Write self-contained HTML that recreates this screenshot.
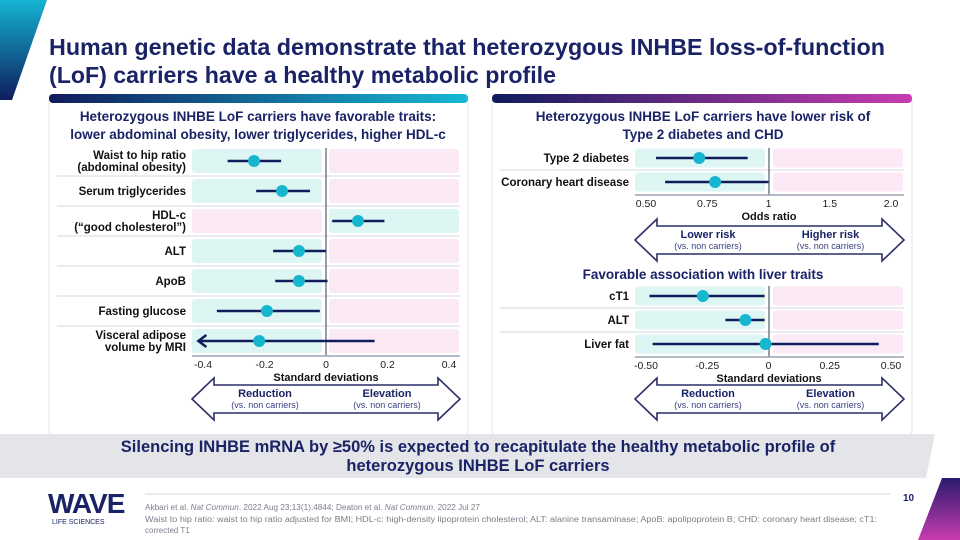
<!DOCTYPE html>
<html><head><meta charset="utf-8">
<style>
html,body{margin:0;padding:0;background:#fff;}
svg{display:block;font-family:"Liberation Sans",sans-serif;}
</style></head>
<body>
<svg id="s" width="960" height="540" viewBox="0 0 960 540" xmlns="http://www.w3.org/2000/svg">
<defs>
<linearGradient id="gl" x1="0" x2="1"><stop offset="0" stop-color="#101c5c"/><stop offset="1" stop-color="#16b9d4"/></linearGradient>
<linearGradient id="gr" x1="0" x2="1"><stop offset="0" stop-color="#101c5c"/><stop offset="1" stop-color="#c83cb0"/></linearGradient>
<linearGradient id="gs" x1="0" y1="0" x2="0" y2="1"><stop offset="0" stop-color="#14b4d2"/><stop offset="1" stop-color="#0f1d5e"/></linearGradient>
<linearGradient id="gm" x1="0" y1="0" x2="0" y2="1"><stop offset="0" stop-color="#2a1a6e"/><stop offset="1" stop-color="#c83cb0"/></linearGradient>
</defs>
<polygon points="0,0 47,0 12,100 0,100" fill="url(#gs)"/>
<text font-size="23" font-weight="bold" fill="#1a2366"><tspan x="49" y="55" textLength="836" lengthAdjust="spacingAndGlyphs">Human genetic data demonstrate that heterozygous INHBE loss-of-function</tspan><tspan x="49" y="83" textLength="507" lengthAdjust="spacingAndGlyphs">(LoF) carriers have a healthy metabolic profile</tspan></text>

<!-- panels -->
<rect x="49" y="96" width="419" height="340" rx="6" fill="#fff" stroke="#e2e4ea"/>
<rect x="49" y="94" width="419" height="9" rx="4" fill="url(#gl)"/>
<rect x="492" y="96" width="420" height="340" rx="6" fill="#fff" stroke="#e2e4ea"/>
<rect x="492" y="94" width="420" height="9" rx="4" fill="url(#gr)"/>

<text font-size="13.5" font-weight="bold" fill="#1a2366" text-anchor="middle"><tspan x="258" y="121">Heterozygous INHBE LoF carriers have favorable traits:</tspan><tspan x="258" y="139">lower abdominal obesity, lower triglycerides, higher HDL-c</tspan></text>
<text font-size="13.5" font-weight="bold" fill="#1a2366" text-anchor="middle"><tspan x="703" y="121">Heterozygous INHBE LoF carriers have lower risk of</tspan><tspan x="703" y="139">Type 2 diabetes and CHD</tspan></text>
<text x="703" y="279" font-size="13.5" font-weight="bold" fill="#1a2366" text-anchor="middle">Favorable association with liver traits</text>

<g id="charts"></g>

<!-- banner -->
<polygon points="0,434 935,434 926,478 0,478" fill="#e4e5e8"/>
<text font-size="16.5" font-weight="bold" fill="#1a2366" text-anchor="middle"><tspan x="478" y="452">Silencing INHBE mRNA by ≥50% is expected to recapitulate the healthy metabolic profile of</tspan><tspan x="478" y="471">heterozygous INHBE LoF carriers</tspan></text>

<!-- footer -->
<text x="48" y="513" font-size="28" font-weight="bold" fill="#1a2366" letter-spacing="-1">WAVE</text>
<text x="52" y="524" font-size="7" fill="#1a2366">LIFE SCIENCES</text>
<line x1="145" y1="494" x2="890" y2="494" stroke="#c8cad2" stroke-width="0.8"/>
<text x="903" y="501" font-size="10" font-weight="bold" fill="#1a2366">10</text>
<text font-size="8" fill="#7a7e8a"><tspan x="145" y="510" textLength="335" lengthAdjust="spacingAndGlyphs">Akbari et al. <tspan font-style="italic">Nat Commun</tspan>. 2022 Aug 23;13(1):4844; Deaton et al. <tspan font-style="italic">Nat Commun</tspan>. 2022 Jul 27</tspan><tspan x="145" y="522" textLength="732" lengthAdjust="spacingAndGlyphs">Waist to hip ratio: waist to hip ratio adjusted for BMI; HDL-c: high-density lipoprotein cholesterol; ALT: alanine transaminase; ApoB: apolipoprotein B; CHD: coronary heart disease; cT1:</tspan><tspan x="145" y="533">corrected T1</tspan></text>
<polygon points="942,478 960,478 960,540 918,540" fill="url(#gm)"/>
</svg>
<script>
// Left chart data (standard deviations)
const traitLabels = [["Waist to hip ratio","(abdominal obesity)"],["Serum triglycerides"],["HDL-c","(\u201cgood cholesterol\u201d)"],["ALT"],["ApoB"],["Fasting glucose"],["Visceral adipose","volume by MRI"]];
const traitEst = [-0.234,-0.143,0.104,-0.088,-0.088,-0.192,-0.217];
const traitLow = [-0.32,-0.227,0.02,-0.172,-0.165,-0.355,-0.415];
const traitHigh = [-0.146,-0.052,0.19,0,0.005,-0.02,0.158];
const traitFavorHigh = [false,false,true,false,false,false,false];
const traitTicks = [-0.4,-0.2,0,0.2,0.4];
const traitTickLabels = ["-0.4","-0.2","0","0.2","0.4"];
// Right top chart (odds ratio)
const riskLabels = ["Type 2 diabetes","Coronary heart disease"];
const riskEst = [0.717,0.782];
const riskLow = [0.541,0.578];
const riskHigh = [0.915,1.0];
const orTicks = [0.5,0.75,1,1.5,2.0];
const orTickLabels = ["0.50","0.75","1","1.5","2.0"];
// Right bottom chart (liver, SD)
const liverLabels = ["cT1","ALT","Liver fat"];
const liverEst = [-0.268,-0.094,-0.012];
const liverLow = [-0.486,-0.176,-0.473];
const liverHigh = [-0.016,-0.016,0.45];
const liverTicks = [-0.5,-0.25,0,0.25,0.5];
const liverTickLabels = ["-0.50","-0.25","0","0.25","0.50"];

const NS="http://www.w3.org/2000/svg";
const root=document.getElementById('charts');
function el(tag,attrs,parent){const e=document.createElementNS(NS,tag);for(const k in attrs)e.setAttribute(k,attrs[k]);(parent||root).appendChild(e);return e;}
const NAVY="#101c5c", TEAL="#ddf6f3", PINK="#fbe9f5", DOT="#17b6cf";

function linScale(d0,d1,r0,r1){return v=>r0+(v-d0)/(d1-d0)*(r1-r0);}
function pieceScale(ticks,r0,r1){const n=ticks.length-1;return v=>{let i=0;while(i<n-1&&v>ticks[i+1])i++;const t=(v-ticks[i])/(ticks[i+1]-ticks[i]);return r0+(i+t)*(r1-r0)/n;};}

function arrowPair(y, x0, x1, xm, leftTxt, rightTxt){
  const g=el('g',{});
  
  
  const h=21, sh=14, tip=22;
  const top=y-h, bot=y+h;
  const pts=[[x0,y],[x0+tip,top],[x0+tip,top+(h-sh)],[x1-tip,top+(h-sh)],[x1-tip,top],[x1,y],[x1-tip,bot],[x1-tip,bot-(h-sh)],[x0+tip,bot-(h-sh)],[x0+tip,bot]];
  el('polygon',{points:pts.map(p=>p.join(',')).join(' '),fill:'#fff',stroke:'#2a2f66','stroke-width':'1.6'},g);
  const lx=(x0+xm)/2+6, rx=(xm+x1)/2-6;
  const t1=el('text',{x:lx,y:y-2,'font-size':'11','font-weight':'bold',fill:'#1a2366','text-anchor':'middle'},g);t1.textContent=leftTxt;
  const t2=el('text',{x:lx,y:y+9,'font-size':'9',fill:'#3a4080','text-anchor':'middle'},g);t2.textContent='(vs. non carriers)';
  const t3=el('text',{x:rx,y:y-2,'font-size':'11','font-weight':'bold',fill:'#1a2366','text-anchor':'middle'},g);t3.textContent=rightTxt;
  const t4=el('text',{x:rx,y:y+9,'font-size':'9',fill:'#3a4080','text-anchor':'middle'},g);t4.textContent='(vs. non carriers)';
}

function forest(cfg){
  const {labels,est,low,high,favorHigh,ticks,tickLabels,scale,zero,bandL0,bandL1,bandR0,bandR1,y0,step,bandH,labelX,sepX0,axisY,axisTitle,name}=cfg;
  const g=el('g',{});
  
  
  for(let i=0;i<labels.length;i++){
    const cy=y0+i*step;
    const fav=favorHigh&&favorHigh[i];
    el('rect',{x:bandL0,y:cy-bandH/2,width:bandL1-bandL0,height:bandH,rx:3,fill:fav?PINK:TEAL},g);
    el('rect',{x:bandR0,y:cy-bandH/2,width:bandR1-bandR0,height:bandH,rx:3,fill:fav?TEAL:PINK},g);
    if(i<labels.length-1){el('line',{x1:sepX0,x2:bandR1+1,y1:cy+step/2,y2:cy+step/2,stroke:'#e4e6ec','stroke-width':'1.5'},g);}
    const lab=Array.isArray(labels[i])?labels[i]:[labels[i]];
    const t=el('text',{'font-size':'11.5','font-weight':'bold',fill:'#111','text-anchor':'end'},g);
    
    
    lab.forEach((s,j)=>{const ts=el('tspan',{x:labelX,y:cy+4+(j-(lab.length-1)/2)*12},t);ts.textContent=s;});
  }
  el('line',{x1:zero,x2:zero,y1:y0-step/2+2,y2:axisY,stroke:'#555a70','stroke-width':'1.2'},g);
  for(let i=0;i<labels.length;i++){
    const cy=y0+i*step;
    const x1=scale(low[i]),x2=scale(high[i]);
    const ci=el('line',{x1:x1,x2:x2,y1:cy,y2:cy,stroke:NAVY,'stroke-width':'2.5'},g);
    
    
    if(cfg.arrowLow && cfg.arrowLow[i]){
      el('polyline',{points:`${x1+8},${cy-6} ${x1},${cy} ${x1+8},${cy+6}`,fill:'none',stroke:NAVY,'stroke-width':'2.5'},g);
    }
    const d=el('circle',{cx:scale(est[i]),cy:cy,r:6,fill:DOT},g);
    
    
  }
  el('line',{x1:bandL0,x2:bandR1+1,y1:axisY,y2:axisY,stroke:'#9aa0b4','stroke-width':'1.5'},g);
  ticks.forEach((v,i)=>{
    const t=el('text',{x:scale(v),y:axisY+12,'font-size':'10.5',fill:'#222','text-anchor':'middle'},g);
    
    
    t.textContent=tickLabels[i];
  });
  const at=el('text',{x:zero,y:axisY+25,'font-size':'11','font-weight':'bold',fill:'#111','text-anchor':'middle'},g);
  
  
  at.textContent=axisTitle;
}

forest({name:'traits-forest-plot',labels:traitLabels,est:traitEst,low:traitLow,high:traitHigh,favorHigh:traitFavorHigh,
  arrowLow:[false,false,false,false,false,false,true],
  ticks:traitTicks,tickLabels:traitTickLabels,scale:linScale(-0.4,0.4,203,449),zero:326,
  bandL0:192,bandL1:322,bandR0:329,bandR1:459,y0:161,step:30,bandH:24,labelX:186,sepX0:57,axisY:356,axisTitle:'Standard deviations'});
forest({name:'odds-ratio-forest-plot',labels:riskLabels,est:riskEst,low:riskLow,high:riskHigh,
  ticks:orTicks,tickLabels:orTickLabels,scale:pieceScale(orTicks,646,891),zero:769,
  bandL0:635,bandL1:765,bandR0:773,bandR1:903,y0:158,step:24,bandH:19,labelX:629,sepX0:500,axisY:195,axisTitle:'Odds ratio'});
forest({name:'liver-forest-plot',labels:liverLabels,est:liverEst,low:liverLow,high:liverHigh,
  ticks:liverTicks,tickLabels:liverTickLabels,scale:linScale(-0.5,0.5,646,891),zero:769,
  bandL0:635,bandL1:765,bandR0:773,bandR1:903,y0:296,step:24,bandH:19,labelX:629,sepX0:500,axisY:357,axisTitle:'Standard deviations'});

arrowPair(399,192,460,326,'Reduction','Elevation');
arrowPair(240,635,904,769,'Lower risk','Higher risk');
arrowPair(399,635,904,769,'Reduction','Elevation');
</script>
</body></html>
